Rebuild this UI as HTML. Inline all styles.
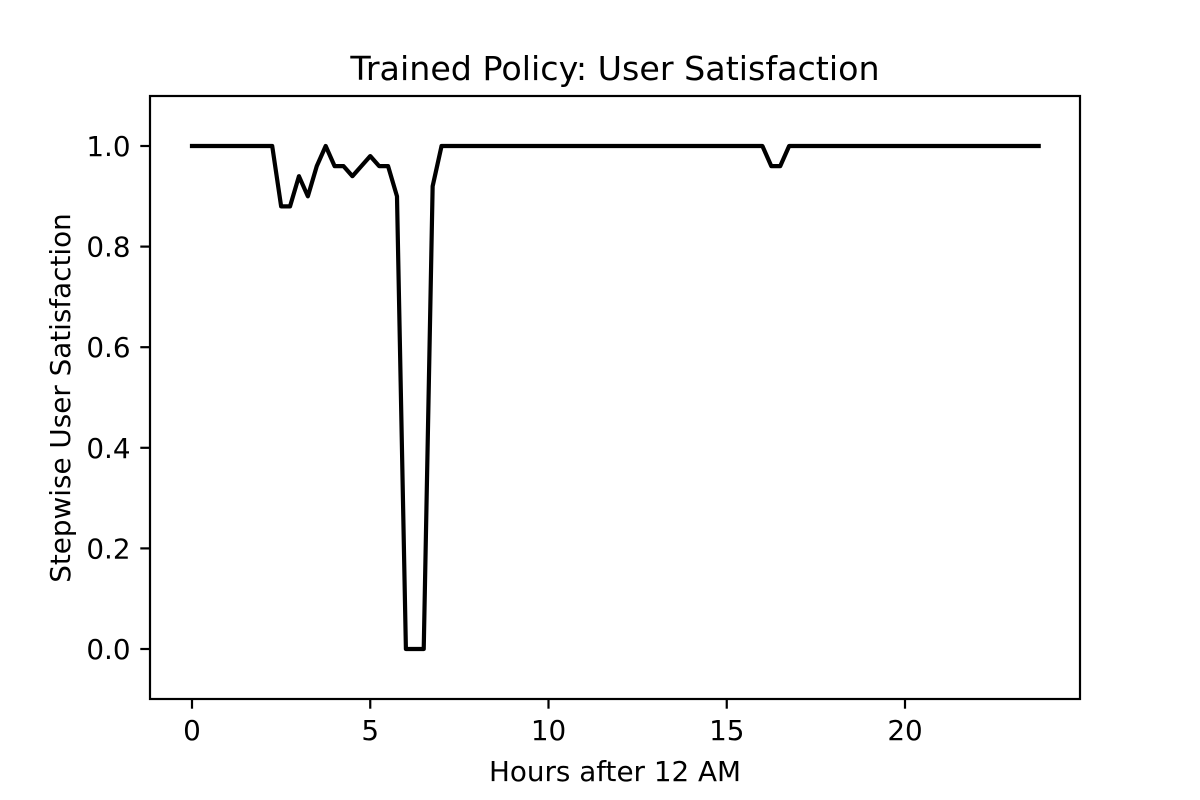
<!DOCTYPE html>
<html><head><meta charset="utf-8"><style>
html,body{margin:0;padding:0;background:#fff;}
svg{display:block;font-family:"DejaVu Sans","Liberation Sans",sans-serif;}
</style></head><body>
<svg id="chart" width="1200" height="800">
<rect x="0" y="0" width="1200" height="800" fill="#fff"/>
</svg>
<script>
const xTicks=[0,5,10,15,20];
const yTicks=[0.0,0.2,0.4,0.6,0.8,1.0];
const hours=[];
for(let i=0;i<96;i++) hours.push(i*0.25);
const overrides=[[2.5,0.88],[2.75,0.88],[3.0,0.94],[3.25,0.90],[3.5,0.96],[3.75,1.0],[4.0,0.96],[4.25,0.96],[4.5,0.94],[4.75,0.96],[5.0,0.98],[5.25,0.96],[5.5,0.96],[5.75,0.90],[6.0,0.0],[6.25,0.0],[6.5,0.0],[6.75,0.92],[16.25,0.96],[16.5,0.96]];
const satisfaction=hours.map(h=>{const o=overrides.find(p=>p[0]===h);return o?o[1]:1.0;});

const NS="http://www.w3.org/2000/svg";
const svg=document.getElementById('chart');
const X0=150,X1=1080,Y0=96,Y1=699;
const sx=v=>192+v*35.65;
const sy=v=>649-v*(649-146);
function el(t,a,p){const e=document.createElementNS(NS,t);for(const k in a)e.setAttribute(k,a[k]);(p||svg).appendChild(e);return e;}

const d=hours.map((h,i)=>(i?'L':'M')+sx(h).toFixed(2)+','+sy(satisfaction[i]).toFixed(2)).join('');
const line=el('path',{d:d,fill:'none',stroke:'#000','stroke-width':4.2,'stroke-linejoin':'round','stroke-linecap':'square'});



const frame=el('rect',{x:X0,y:Y0,width:X1-X0,height:Y1-Y0,fill:'none',stroke:'#000','stroke-width':2.2});



xTicks.forEach(t=>{
  const g=el('g',{});
  
  
  el('line',{x1:sx(t),x2:sx(t),y1:Y1,y2:Y1+9.7,stroke:'#000','stroke-width':2.2},g);
  const tx=el('text',{x:sx(t),y:740,'text-anchor':'middle','font-size':27.8},g);tx.textContent=t;
});
yTicks.forEach(t=>{
  const g=el('g',{});
  
  
  el('line',{x1:X0-9.7,x2:X0,y1:sy(t),y2:sy(t),stroke:'#000','stroke-width':2.2},g);
  const tx=el('text',{x:130.6,y:sy(t)+10,'text-anchor':'end','font-size':27.8},g);tx.textContent=t.toFixed(1);
});

const title=el('text',{x:615,y:80,'text-anchor':'middle','font-size':33.3});
title.textContent='Trained Policy: User Satisfaction';



const xl=el('text',{x:615,y:781,'text-anchor':'middle','font-size':27.8});
xl.textContent='Hours after 12 AM';



const yl=el('text',{x:0,y:0,'text-anchor':'middle','font-size':27.8,transform:'translate(70,398) rotate(-90)'});
yl.textContent='Stepwise User Satisfaction';


</script>
</body></html>
